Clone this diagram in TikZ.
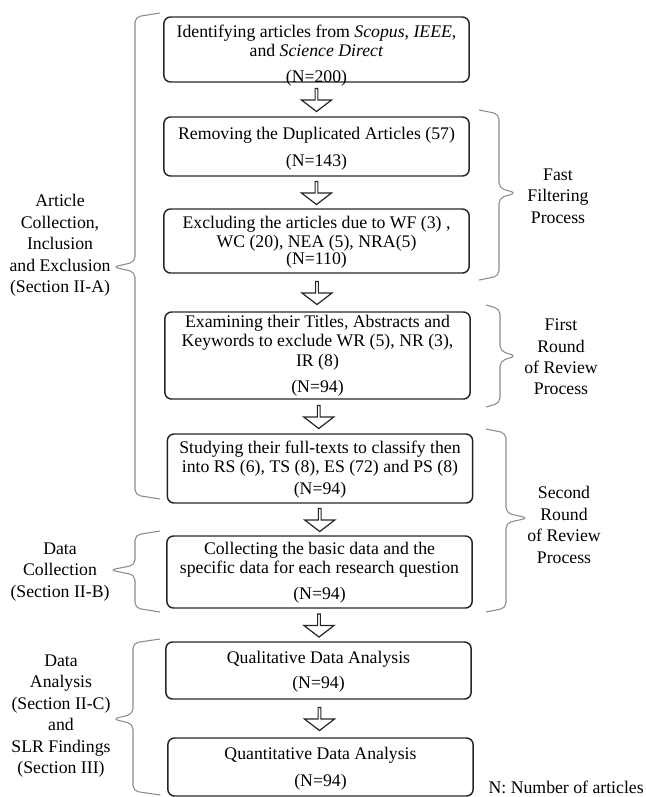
\documentclass[tikz,border=0pt]{standalone}
\usepackage{fontspec}
\setmainfont{Liberation Serif}
\usetikzlibrary{shapes.arrows,calc}

\tikzset{
  stage/.style={draw=black!85, line width=1.1pt, rounded corners=5pt, minimum width=229pt, inner sep=0pt},
  stagetext/.style={align=center, inner sep=0pt, font=\fontsize{13.3}{14.6}\selectfont},
  count/.style={inner sep=0pt, font=\fontsize{13.3}{14.6}\selectfont},
  sidetext/.style={align=center, inner sep=0pt, font=\fontsize{13.3}{16.1}\selectfont},
  flow/.style={single arrow, draw=black!85, line width=0.9pt, rotate=-90, inner sep=0pt,
    minimum height=17.25pt, minimum width=22.5pt, single arrow head extend=4.5pt, single arrow tip angle=105},
  bracket/.style={draw=black!45, line width=0.8pt, rounded corners=4pt}
}

\begin{document}
\begin{tikzpicture}[x=0.75pt,y=-0.75pt]
    \useasboundingbox (0,0) rectangle (646,797);

    % search
    \node[stage, minimum height=48.75pt] (b1) at (316.5,49.5) {};
    \node[stagetext] (t1) at (316.5,41) {Identifying articles from \textit{Scopus}, \textit{IEEE},\\and \textit{Science Direct}};
    \node[count] (n1) at (316.5,78) {(N=200)};

    % fast filtering
    \node[stage, minimum height=44.25pt] (b2) at (316.5,146.5) {};
    \node[stagetext] (t2) at (316.5,135) {Removing the Duplicated Articles (57)};
    \node[count] (n2) at (316.5,162) {(N=143)};

    \node[stage, minimum height=48pt] (b3) at (316.5,241) {};
    \node[stagetext] (t3) at (316.5,233.5) {Excluding the articles due to WF (3) ,\\WC (20), NEA (5), NRA(5)};
    \node[count] (n3) at (316.5,260) {(N=110)};

    % first round
    \node[stage, minimum height=65.25pt] (b4) at (317.5,355.5) {};
    \node[stagetext] (t4) at (317.5,342.5) {Examining their Titles, Abstracts and\\Keywords to exclude WR (5), NR (3),\\IR (8)};
    \node[count] (n4) at (317.5,388) {(N=94)};

    % second round
    \node[stage, minimum height=51.75pt] (b5) at (320,468.5) {};
    \node[stagetext] (t5) at (320,458.5) {Studying their full-texts to classify then\\into RS (6), TS (8), ES (72) and PS (8)};
    \node[count] (n5) at (320,490) {(N=94)};

    \node[stage, minimum height=54pt] (b6) at (319.5,572) {};
    \node[stagetext] (t6) at (319.5,559.5) {Collecting the basic data and the\\specific data for each research question};
    \node[count] (n6) at (319.5,595) {(N=94)};

    % analysis
    \node[stage, minimum height=42.75pt] (b7) at (318.5,670.5) {};
    \node[stagetext] (t7) at (318.5,659) {Qualitative Data Analysis};
    \node[count] (n7) at (318.5,684) {(N=94)};

    \node[stage, minimum height=43.5pt] (b8) at (320.5,767) {};
    \node[stagetext] (t8) at (320.5,755) {Quantitative Data Analysis};
    \node[count] (n8) at (320.5,782) {(N=94)};

    % arrows
    \node[flow] (a1) at ($(b1.south)!.5!(b2.north)$) {};
    \node[flow] (a2) at ($(b2.south)!.5!(b3.north)$) {};
    \node[flow] (a3) at ($(b3.south)!.5!(b4.north)$) {};
    \node[flow] (a4) at ($(b4.south)!.5!(b5.north)$) {};
    \node[flow] (a5) at ($(b5.south)!.5!(b6.north)$) {};
    \node[flow] (a6) at ($(b6.south)!.5!(b7.north)$) {};
    \node[flow] (a7) at ($(b7.south)!.5!(b8.north)$) {};

    % left braces
    \draw[bracket] (160,13) -- (135,17) -- (135,262) -- (113,267) -- (135,272) -- (135,495) -- (160,499);
    \node[sidetext] (l1) at (60,245.5) {Article\\Collection,\\Inclusion\\and Exclusion\\(Section II-A)};

    \draw[bracket] (160,531) -- (135,535) -- (135,565) -- (110,570) -- (135,575) -- (135,608) -- (160,612);
    \node[sidetext] (l2) at (60,572) {Data\\Collection\\(Section II-B)};

    \draw[bracket] (160,639) -- (133,643) -- (133,714) -- (113,719) -- (133,724) -- (133,791) -- (160,795);
    \node[sidetext] (l3) at (61,716) {Data\\Analysis\\(Section II-C)\\and\\SLR Findings\\(Section III)};

    % right braces
    \draw[bracket] (479,110) -- (499,114) -- (499,188) -- (516,193) -- (499,198) -- (499,276) -- (479,280);
    \node[sidetext] (r1) at (558,196) {Fast\\Filtering\\Process};

    \draw[bracket] (486,305) -- (500,309) -- (500,351) -- (516,356) -- (500,361) -- (500,403) -- (486,407);
    \node[sidetext] (r2) at (561,357) {First\\Round\\of Review\\Process};

    \draw[bracket] (486,429) -- (506,433) -- (506,513) -- (528,518) -- (506,523) -- (506,608) -- (486,612);
    \node[sidetext] (r3) at (564,525) {Second\\Round\\of Review\\Process};

    % legend
    \node[sidetext, anchor=east] (key) at (644,787) {N: Number of articles};
\end{tikzpicture}
\end{document}
